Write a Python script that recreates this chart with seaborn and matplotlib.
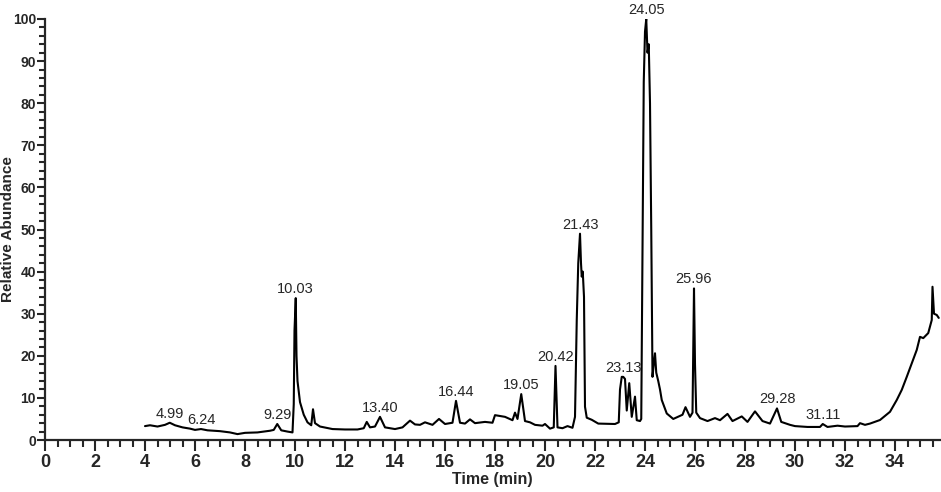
import numpy as np
import pandas as pd
import seaborn as sns
from matplotlib import pyplot as plt
from matplotlib.ticker import MultipleLocator

# chromatogram trace
time_min = [
    4.0, 4.2, 4.5, 4.8, 4.99, 5.2, 5.5, 5.8, 6.0, 6.24, 6.5, 7.0, 7.4, 7.7, 8.0,
    8.5, 9.0, 9.15, 9.29, 9.45, 9.7, 9.9, 9.95, 9.98, 10.03, 10.06, 10.1, 10.2,
    10.35, 10.5, 10.65, 10.72, 10.8, 11.0, 11.5, 12.0, 12.5, 12.75, 12.87, 13.0,
    13.2, 13.4, 13.6, 14.0, 14.3, 14.6, 14.8, 15.0, 15.2, 15.5, 15.76, 16.0,
    16.3, 16.44, 16.6, 16.8, 17.0, 17.2, 17.6, 17.9, 18.0, 18.4, 18.7, 18.8,
    18.9, 18.95, 19.05, 19.2, 19.4, 19.6, 19.9, 20.0, 20.2, 20.35, 20.42, 20.5,
    20.7, 20.9, 21.1, 21.2, 21.27, 21.33, 21.4, 21.44, 21.47, 21.51, 21.56,
    21.6, 21.67, 21.87, 22.13, 22.8, 22.95, 23.0, 23.07, 23.13, 23.2, 23.27,
    23.37, 23.47, 23.6, 23.67, 23.8, 23.85, 23.9, 23.95, 24.0, 24.05, 24.1,
    24.15, 24.2, 24.25, 24.3, 24.35, 24.4, 24.45, 24.53, 24.6, 24.67, 24.87,
    25.13, 25.5, 25.62, 25.8, 25.9, 25.96, 26.0, 26.05, 26.2, 26.5, 26.8, 27.0,
    27.3, 27.5, 27.87, 28.1, 28.4, 28.7, 29.0, 29.28, 29.45, 29.8, 30.0, 30.5,
    31.0, 31.11, 31.3, 31.7, 32.0, 32.5, 32.6, 32.8, 33.0, 33.4, 33.8, 34.07,
    34.27, 34.47, 34.67, 34.87, 35.0, 35.13, 35.33, 35.47, 35.5, 35.56, 35.67,
    35.75,
]
abundance = [
    3.3, 3.5, 3.2, 3.6, 4.1, 3.5, 3.0, 2.7, 2.4, 2.6, 2.3, 2.1, 1.8, 1.4, 1.7,
    1.8, 2.2, 2.4, 3.8, 2.3, 2.0, 1.8, 8.5, 26.0, 33.7, 20.0, 14.0, 9.0,
    6.0, 4.2, 3.5, 7.3, 4.0, 3.2, 2.6, 2.5, 2.5, 2.8, 4.3, 3.0,
    3.2, 5.5, 3.0, 2.6, 3.0, 4.6, 3.7, 3.6, 4.2, 3.6, 5.0, 3.8,
    4.1, 9.3, 4.1, 3.9, 4.9, 4.0, 4.3, 4.1, 5.9, 5.5, 4.7, 6.5,
    5.0, 7.0, 10.9, 4.5, 4.2, 3.6, 3.4, 3.8, 2.7, 3.0, 17.6, 3.0,
    2.8, 3.3, 2.9, 5.5, 28.5, 42.0, 49.0, 42.0, 38.8, 40.0, 34.0,
    7.9, 5.3, 4.8, 3.9, 3.8, 4.2, 12.0, 15.0, 15.0, 14.5, 7.0,
    13.5, 5.5, 10.3, 4.7, 4.5, 5.0, 45.0, 85.0, 97.0, 100.0, 92.0,
    94.0, 80.0, 50.0, 15.0, 18.0, 20.6, 16.0, 14.0, 12.0, 9.5, 6.3,
    5.0, 6.0, 7.8, 5.5, 6.5, 36.0, 18.0, 6.5, 5.2, 4.5, 5.2, 4.7,
    6.2, 4.5, 5.6, 4.3, 6.8, 4.5, 3.9, 7.5, 4.3, 3.6, 3.3, 3.1,
    3.1, 3.8, 3.1, 3.4, 3.2, 3.3, 4.0, 3.6, 3.9, 4.75, 6.7, 9.5,
    11.9, 15.0, 18.2, 21.4, 24.5, 24.2, 25.4, 28.5, 36.4, 30.0, 29.7,
    29.0,
]

# labelled retention times
peak_labels = ["4.99", "6.24", "9.29", "10.03", "13.40", "16.44", "19.05",
               "20.42", "21.43", "23.13", "24.05", "25.96", "29.28", "31.11"]

assert len(time_min) == len(abundance)
df = pd.DataFrame({"time": time_min, "abundance": abundance})

sns.set_style("ticks")
plt.rcParams['font.family'] = ['Liberation Sans Narrow', 'Liberation Sans', 'DejaVu Sans']

fig, ax = plt.subplots(figsize=(9.41, 4.92), dpi=100)
fig.subplots_adjust(left=45 / 941, right=940 / 941, bottom=52 / 492, top=473 / 492)

sns.lineplot(data=df, x="time", y="abundance", ax=ax, color="black", linewidth=1.5)

for lab in peak_labels:
    t = float(lab)
    near = df[(df["time"] > t - 0.12) & (df["time"] < t + 0.12)]
    h = near["abundance"].max()
    ax.annotate(lab, (t, h), xytext=(0, 1.5), textcoords="offset points",
                ha="center", va="bottom", fontsize=10.5, annotation_clip=False)

ax.set_xlim(0, 35.8)
ax.set_ylim(0, 100)
ax.xaxis.set_major_locator(MultipleLocator(2))
ax.xaxis.set_minor_locator(MultipleLocator(0.5))
ax.yaxis.set_major_locator(MultipleLocator(10))
ax.yaxis.set_minor_locator(MultipleLocator(2))
ax.set_xticks(range(0, 35, 2))
ax.tick_params(axis="x", which="major", length=8, width=1.5, labelsize=13, pad=2)
ax.tick_params(axis="x", which="minor", length=5, width=1.5)
ax.tick_params(axis="y", which="major", length=6, width=1.5, labelsize=10, pad=0.5)
ax.tick_params(axis="y", which="minor", length=4, width=1.5)
for lab in ax.get_xticklabels() + ax.get_yticklabels():
    lab.set_fontweight("bold")

for side in ["left", "bottom"]:
    ax.spines[side].set_linewidth(1.6)
sns.despine(ax=ax)

ax.set_xlabel("Time (min)", fontsize=11.5, fontweight="bold",
              family=["Liberation Sans", "DejaVu Sans"], labelpad=1)
ax.set_ylabel("Relative Abundance", fontsize=11, fontweight="bold",
              family=["Liberation Sans", "DejaVu Sans"])
ax.yaxis.set_label_coords(-0.034, 0.5)

fig.savefig("out.png", dpi=100)
